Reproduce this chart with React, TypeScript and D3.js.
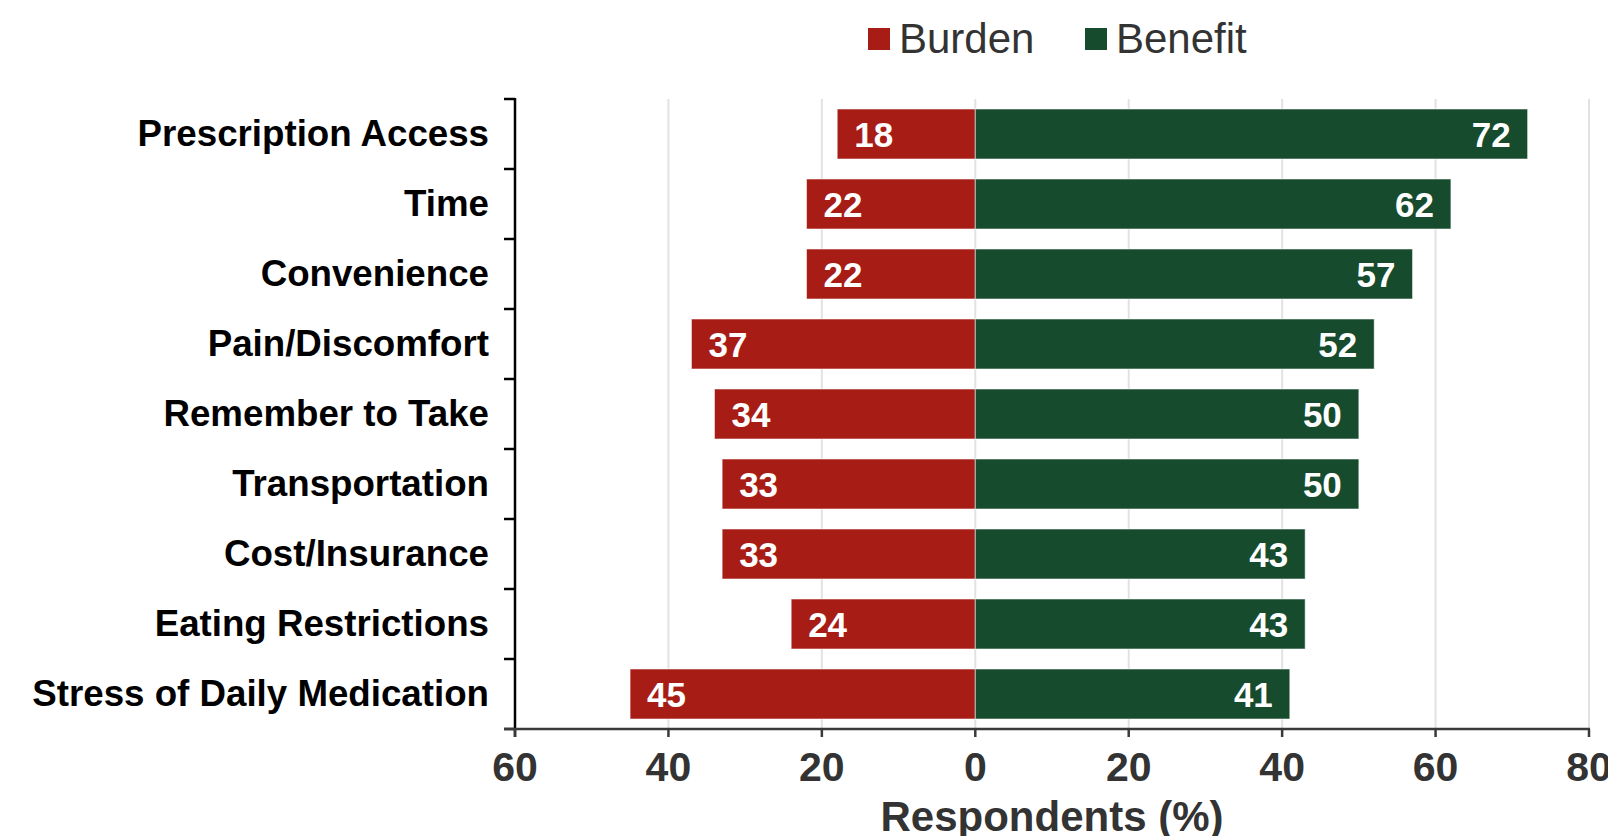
import React from "react";
import * as d3 from "d3";

// Survey categories, top to bottom
const categories = [
  "Prescription Access",
  "Time",
  "Convenience",
  "Pain/Discomfort",
  "Remember to Take",
  "Transportation",
  "Cost/Insurance",
  "Eating Restrictions",
  "Stress of Daily Medication",
];

// Share of respondents (%) reporting each factor as a burden / a benefit
const burden = [18, 22, 22, 37, 34, 33, 33, 24, 45];
const benefit = [72, 62, 57, 52, 50, 50, 43, 43, 41];

const xTicks = [-60, -40, -20, 0, 20, 40, 60, 80];
const xDomain: [number, number] = [-60, 80];

const seriesNames = ["Burden", "Benefit"];
const seriesColors = ["#A81C16", "#164B2D"];

const WIDTH = 1608;
const HEIGHT = 836;
const FONT = "'Liberation Sans', Arial, Helvetica, sans-serif";

export default function App() {
  const x = d3.scaleLinear().domain(xDomain).range([515, 1589]);
  const y = d3
    .scaleBand<string>()
    .domain(categories)
    .range([99, 729])
    .paddingInner(0.2857)
    .paddingOuter(0.1428);

  const [yTop, yBottom] = y.range();
  const bandStep = (yBottom - yTop) / categories.length;
  const bw = y.bandwidth();
  const x0 = x(0);

  const rows = categories.map((c, i) => ({
    cat: c,
    burden: burden[i],
    benefit: benefit[i],
  }));

  const legendX = [868, 1085];

  return (
    <svg
      width={WIDTH}
      height={HEIGHT}
      style={{ position: "absolute", left: 0, top: 0, background: "#fff" }}
      fontFamily={FONT}
    >
      {/* vertical gridlines */}
      {xTicks
        .filter((t) => t !== xDomain[0])
        .map((t) => (
          <line
            key={"g" + t}
            x1={x(t)}
            x2={x(t)}
            y1={yTop}
            y2={yBottom}
            stroke="#E2E2E2"
            strokeWidth={2}
          />
        ))}

      {/* bars */}
      {rows.map((r) => (
        <g key={r.cat}>
          <rect
            x={x(-r.burden)}
            y={y(r.cat)!}
            width={x0 - x(-r.burden)}
            height={bw}
            fill={seriesColors[0]}
            stroke="#fff"
            strokeOpacity={0.55}
            strokeWidth={1}
          />
          <rect
            x={x0}
            y={y(r.cat)!}
            width={x(r.benefit) - x0}
            height={bw}
            fill={seriesColors[1]}
            stroke="#fff"
            strokeOpacity={0.55}
            strokeWidth={1}
          />
          <text
            x={x(-r.burden) + 17}
            y={y(r.cat)! + bw / 2}
            dy="0.36em"
            fill="#fff"
            fontWeight="bold"
            fontSize={35}
          >
            {r.burden}
          </text>
          <text
            x={x(r.benefit) - 17}
            y={y(r.cat)! + bw / 2}
            dy="0.36em"
            fill="#fff"
            fontWeight="bold"
            fontSize={35}
            textAnchor="end"
          >
            {r.benefit}
          </text>
        </g>
      ))}

      {/* y axis */}
      <line
        x1={x(xDomain[0])}
        x2={x(xDomain[0])}
        y1={yTop - 1}
        y2={yBottom + 8}
        stroke="#000"
        strokeWidth={2.5}
      />
      {d3.range(categories.length + 1).map((i) => (
        <line
          key={"yt" + i}
          x1={x(xDomain[0]) - 11}
          x2={x(xDomain[0])}
          y1={yTop + i * bandStep}
          y2={yTop + i * bandStep}
          stroke="#000"
          strokeWidth={2.5}
        />
      ))}
      {categories.map((c) => (
        <text
          key={"yl" + c}
          x={489}
          y={y(c)! + bw / 2}
          dy="0.32em"
          textAnchor="end"
          fontWeight="bold"
          fontSize={36.7}
          fill="#000"
        >
          {c}
        </text>
      ))}

      {/* x axis */}
      <line
        x1={x(xDomain[0]) - 11}
        x2={x(xDomain[1]) + 1}
        y1={yBottom}
        y2={yBottom}
        stroke="#3A3A3A"
        strokeWidth={2.5}
      />
      {xTicks.map((t) => (
        <g key={"xt" + t}>
          <line
            x1={x(t)}
            x2={x(t)}
            y1={yBottom}
            y2={yBottom + 8}
            stroke="#3A3A3A"
            strokeWidth={2.5}
          />
          <text
            x={x(t)}
            y={781}
            textAnchor="middle"
            fontWeight="bold"
            fontSize={41}
            fill="#333"
          >
            {Math.abs(t)}
          </text>
        </g>
      ))}
      <text
        x={(x(xDomain[0]) + x(xDomain[1])) / 2}
        y={831}
        textAnchor="middle"
        fontWeight="bold"
        fontSize={42}
        fill="#333"
      >
        Respondents (%)
      </text>

      {/* legend */}
      {seriesNames.map((s, i) => (
        <g key={"lg" + s}>
          <rect x={legendX[i]} y={28} width={22} height={22} fill={seriesColors[i]} />
          <text x={legendX[i] + 31} y={53} fontSize={42} fill="#333">
            {s}
          </text>
        </g>
      ))}
    </svg>
  );
}
